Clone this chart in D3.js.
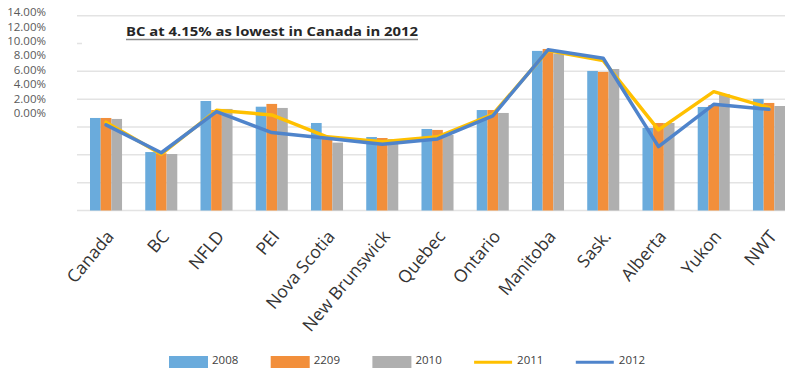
<!DOCTYPE html>
<html><head><meta charset="utf-8">
<script src="https://cdn.jsdelivr.net/npm/d3@7"></script>
<style>
html,body{margin:0;padding:0;background:#fff;}
svg{display:block;}
</style></head>
<body>
<svg id="chart" width="785" height="372"></svg>
<script>
const categories = ["Canada","BC","NFLD","PEI","Nova Scotia","New Brunswick","Quebec","Ontario","Manitoba","Sask.","Alberta","Yukon","NWT"];
const s2008 = [6.65,4.20,7.87,7.46,6.29,5.28,5.86,7.22,11.47,10.03,5.93,7.44,8.02];
const s2209 = [6.65,4.11,7.22,7.66,5.26,5.21,5.79,7.22,11.61,9.96,6.29,7.58,7.73];
const s2010 = [6.58,4.06,7.30,7.37,4.88,5.14,5.43,7.01,11.27,10.17,6.29,8.37,7.51];
const s2011 = [6.35,4.05,7.20,6.87,5.30,4.95,5.30,6.90,11.50,10.77,5.79,8.54,7.39];
const s2012 = [6.15,4.15,7.10,5.60,5.20,4.76,5.14,6.80,11.55,10.94,4.59,7.63,7.27];
const barSeries = ["2008","2209","2010"];
const lineSeries = ["2011","2012"];
const yTicks = [0,2,4,6,8,10,12,14];
const titleText = "BC at 4.15% as lowest in Canada in 2012";

const colors = {"2008":"#6AABDC","2209":"#F28F3B","2010":"#AFAFAF","2011":"#FFC000","2012":"#4F84CB"};
const barData = {"2008":s2008,"2209":s2209,"2010":s2010};
const lineData = {"2011":s2011,"2012":s2012};

const svg = d3.select("#chart");
const y = d3.scaleLinear().domain([0,14]).range([210.5,15.7]);
const x = d3.scaleBand().domain(categories).range([78.4,796.6]).paddingInner(0.42).paddingOuter(0.21);
const xs = d3.scaleBand().domain(barSeries).range([0,x.bandwidth()]);

// gridlines
svg.append("g").selectAll("line").data(yTicks).join("line")
  .attr("x1",77).attr("x2",785)
  .attr("y1",d=>y(d)).attr("y2",d=>y(d))
  .attr("stroke","#E3E3E3").attr("stroke-width",1.5);

// title box
svg.append("rect").attr("x",82).attr("y",33).attr("width",703).attr("height",14).attr("fill","#fff");

// bars
barSeries.forEach(s=>{
  svg.append("g").selectAll("rect").data(barData[s]).join("rect")
    .attr("x",(d,i)=>x(categories[i])+xs(s))
    .attr("width",xs.bandwidth())
    .attr("y",d=>y(d))
    .attr("height",d=>y(0)-y(d))
    .attr("fill",colors[s]);
});

// lines
const line = d3.line().x((d,i)=>x(categories[i])+x.bandwidth()/2).y(d=>y(d));
lineSeries.forEach(s=>{
  svg.append("path").datum(lineData[s])
    .attr("d",line).attr("fill","none")
    .attr("stroke",colors[s]).attr("stroke-width",3.5)
    .attr("stroke-linejoin","round").attr("stroke-linecap","round");
});

// y-axis labels (compressed, as in reference)
const yl = d3.scaleLinear().domain([0,14]).range([113,12]);
const yAxis = d3.axisLeft(yl).tickValues(yTicks).tickSize(0).tickPadding(0)
  .tickFormat(d=>d3.format(".2f")(d)+"%");
const ga = svg.append("g").attr("transform","translate(46,0)").call(yAxis);
ga.select(".domain").remove();
ga.selectAll("text").attr("font-family","'Open Sans', sans-serif").attr("font-size",11.5).attr("fill","#595959");

// x labels
svg.append("g").selectAll("text").data(categories).join("text")
  .attr("transform",d=>`translate(${x(d)+x.bandwidth()/2+4},${233}) rotate(-50)`)
  .attr("text-anchor","end").attr("dy","0.35em")
  .attr("font-family","'Open Sans', sans-serif").attr("font-size",17.5)
  .attr("fill","#333333").text(d=>d);

// title
svg.append("text").attr("x",126).attr("y",35.5)
  .attr("font-family","'Open Sans', sans-serif").attr("font-weight","bold").attr("font-size",12.5)
  .attr("fill","#262626").attr("textLength",292).attr("lengthAdjust","spacingAndGlyphs")
  .text(titleText);
svg.append("line").attr("x1",126).attr("x2",418).attr("y1",39.5).attr("y2",39.5)
  .attr("stroke","#8a8a8a").attr("stroke-width",1.3);

// legend
const legendItems = barSeries.concat(lineSeries);
const lg = svg.append("g").selectAll("g").data(legendItems).join("g")
  .attr("transform",(d,i)=>`translate(${169+i*101.7},0)`);
lg.filter(d=>barSeries.includes(d)).append("rect")
  .attr("x",0).attr("y",356).attr("width",39).attr("height",12).attr("fill",d=>colors[d]);
lg.filter(d=>lineSeries.includes(d)).append("line")
  .attr("x1",0).attr("x2",38).attr("y1",362.3).attr("y2",362.3)
  .attr("stroke",d=>colors[d]).attr("stroke-width",3);
lg.append("text").attr("x",43).attr("y",363.5)
  .attr("font-family","'Open Sans', sans-serif").attr("font-size",11.5).attr("fill","#404040")
  .text(d=>d);
</script>
</body></html>
